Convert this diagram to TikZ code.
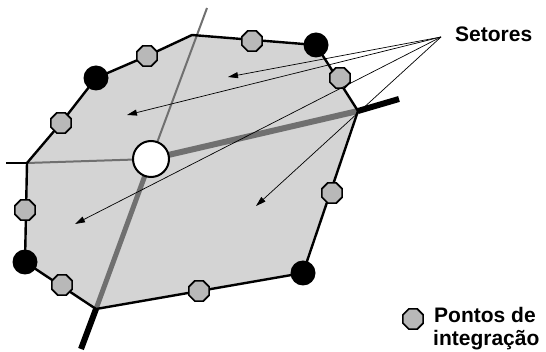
\documentclass[tikz,border=0pt]{standalone}
\usepackage{fontspec}
\setmainfont{Liberation Sans}
\usetikzlibrary{shapes.geometric,arrows.meta}
\definecolor{fillgray}{HTML}{D4D4D4}
\definecolor{ptgray}{HTML}{B8B8B8}
\definecolor{linegray}{HTML}{707070}
\tikzset{
  ipoint/.style={regular polygon,regular polygon sides=8,minimum size=22pt,inner sep=0pt,draw=black,line width=1.6pt,fill=ptgray},
  bdot/.style={circle,fill=black,minimum size=25pt,inner sep=0pt},
  sarrow/.style={line width=0.7pt,-{Triangle[length=10pt,width=6pt]}},
  lbl/.style={font=\bfseries\fontsize{21}{23}\selectfont,inner sep=0pt,align=left},
  edge/.style={line width=2.4pt,line join=round},
}
\begin{document}
\begin{tikzpicture}[x=1pt,y=-1pt]
\useasboundingbox (0,0) rectangle (546,352);
% polygon vertices
\coordinate (v1) at (27,163);
\coordinate (q1) at (61,123);
\coordinate (q2) at (96,78);
\coordinate (q3) at (147,56);
\coordinate (v2) at (192,35);
\coordinate (v3) at (316,45);
\coordinate (v4) at (358,111);
\coordinate (v5) at (303,273);
\coordinate (v6) at (96,309);
\coordinate (v7) at (25,262);
\coordinate (c) at (151,159);
\coordinate (t) at (207,8);
\coordinate (l) at (6,163);
\coordinate (r) at (399,99);
\coordinate (b) at (81,349);
\fill[fillgray] (v1) -- (q1) -- (q2) -- (q3) -- (v2) -- (v3) -- (v4) -- (v5) -- (v6) -- (v7) -- cycle;
% radial lines
\draw[linegray,line width=2pt] (c) -- (v1);
\draw[black,line width=2pt] (v1) -- (l);
\draw[linegray,line width=2pt] (c) -- (t);
\draw[linegray,line width=6pt] (c) -- (v4);
\draw[black,line width=6pt] (v4) -- (r);
\draw[linegray,line width=5pt] (c) -- (v6);
\draw[black,line width=6pt] (v6) -- (b);
% border
\draw[edge] (v1) -- (q1) -- (q2) -- (q3) -- (v2) -- (v3) -- (v4) -- (v5) -- (v6) -- (v7) -- cycle;
% black dots
\node[bdot] (d1) at (q2) {};
\node[bdot] (d2) at (v3) {};
\node[bdot] (d3) at (v5) {};
\node[bdot] (d4) at (v7) {};
% integration points
\node[ipoint] (p1) at (q3) {};
\node[ipoint] (p2) at (q1) {};
\node[ipoint] (p3) at (252,41) {};
\node[ipoint] (p4) at (340,78) {};
\node[ipoint] (p5) at (332,193) {};
\node[ipoint] (p6) at (199,291) {};
\node[ipoint] (p7) at (62,285) {};
\node[ipoint] (p8) at (25,210) {};
% centre node
\node[circle,draw=black,line width=2pt,fill=white,minimum size=36pt,inner sep=0pt] (cn) at (c) {};
% sector arrows
\coordinate (s) at (441,37);
\coordinate (a1) at (228,77);
\coordinate (a2) at (127,115);
\coordinate (a3) at (75,224);
\coordinate (a4) at (256,206);
\draw[sarrow] (s) -- (a1);
\draw[sarrow] (s) -- (a2);
\draw[sarrow] (s) -- (a3);
\draw[sarrow] (s) -- (a4);
\node[lbl,anchor=base west] (setores) at (455,42) {Setores};
% legend
\node[ipoint] (lp) at (413,319) {};
\node[lbl,anchor=base west] (leg1) at (434,323) {Pontos de};
\node[lbl,anchor=base west] (leg2) at (433,345) {integração};
\end{tikzpicture}
\end{document}
